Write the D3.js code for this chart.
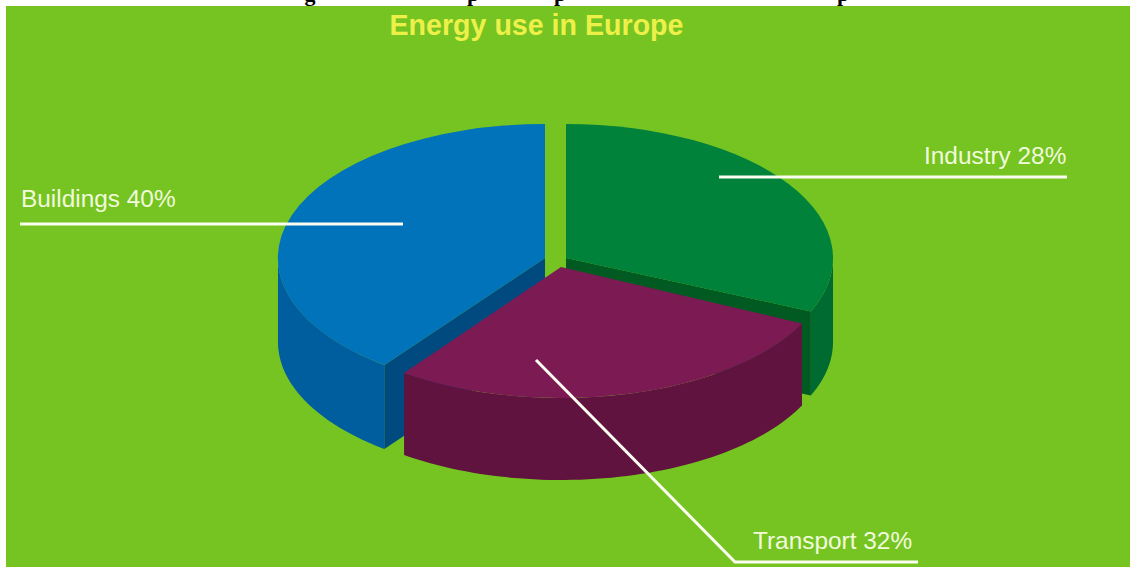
<!DOCTYPE html>
<html>
<head>
<meta charset="utf-8">
<style>
    html, body { margin: 0; padding: 0; background: #fff; overflow: hidden; }
    svg { display: block; }
</style>
<script src="https://cdn.jsdelivr.net/npm/d3@7"></script>
</head>
<body>
<svg id="mainFrame"></svg>
<script>
// chart values
const sectors = ["Industry", "Transport", "Buildings"];
const shares = [28, 32, 40];
const chartTitle = "Energy use in Europe";
// the tilted pie is drawn in perspective, so the slices do not open by their plain share
const shareStops = [0, 28, 60, 100];
const drawnDegrees = [0, 113.5, 216.5, 360];
// only the bottoms of the heading above the chart are left in the picture
const headingGlyphs = ["g", "p", "p", "p"];

const width = 1130;
const height = 567;
const rx = 267;

const topColor = { Industry: "#00823a", Transport: "#7c1a54", Buildings: "#0073bb" };
const wallColor = { Industry: "#006b31", Transport: "#5f133e", Buildings: "#005e9e" };
const cutColor = { Industry: "#005a22", Buildings: "#004a80" };
const center = {
    Industry: [566, 258],
    Transport: [561, 267],
    Buildings: [545, 258]
};
const radiusY = { Industry: 134, Transport: 131, Buildings: 134 };
const depth = { Industry: 84, Transport: 82, Buildings: 84 };
// small trim of each slice's edges, in degrees
const trim = { Industry: [0, 0], Transport: [2, -0.5], Buildings: [0.5, 0] };
const labels = {
    Industry: { x: 924, y: 164, line: [[719, 177], [1067, 177]] },
    Transport: { x: 753, y: 549, line: [[536, 360], [735, 562], [918, 562]] },
    Buildings: { x: 21, y: 207, line: [[20, 224], [403, 224]] }
};
const headingX = [310, 473, 560, 843];

const svg = d3.select("#mainFrame")
    .attr("width", width)
    .attr("height", height);

svg.append("rect")
    .attr("x", 6).attr("y", 6)
    .attr("width", width - 6).attr("height", height - 6)
    .attr("fill", "#76c422");

svg.selectAll(".heading")
    .data(headingGlyphs)
    .join("text")
    .attr("class", "heading")
    .attr("x", (d, i) => headingX[i])
    .attr("y", 1)
    .attr("text-anchor", "middle")
    .attr("font-family", "Liberation Serif")
    .attr("font-weight", "bold")
    .attr("font-size", 22)
    .attr("fill", "#000")
    .text(d => d);

const tilt = d3.scaleLinear()
    .domain(shareStops.map(d => d / 100 * 2 * Math.PI))
    .range(drawnDegrees.map(d => d * Math.PI / 180));

const pie = d3.pie().sort(null).value(d => d.share)
    .startAngle(0).endAngle(2 * Math.PI);

const slices = pie(sectors.map((name, i) => ({ name, share: shares[i] }))).map(d => {
    const name = d.data.name;
    return {
        name,
        start: tilt(d.startAngle) + trim[name][0] * Math.PI / 180,
        end: tilt(d.endAngle) + trim[name][1] * Math.PI / 180
    };
});

const px = (name, a) => center[name][0] + rx * Math.sin(a);
const py = (name, a) => center[name][1] - radiusY[name] * Math.cos(a);

const arc = d3.arc().innerRadius(0).outerRadius(1);
const polygon = d3.line();
const wall = d3.area();

// drawing order: back slices first, the pulled out front slice on top
const order = ["Buildings", "Industry", "Transport"];

order.forEach(name => {
    const s = slices.find(d => d.name === name);
    const g = svg.append("g");
    const [cx, cy] = center[name];

    // only the lower half of the rim faces the viewer
    const from = Math.max(s.start, Math.PI / 2);
    const to = Math.min(s.end, 3 * Math.PI / 2);
    const steps = d3.range(0, 61).map(i => from + (to - from) * i / 60);

    g.append("path")
        .attr("fill", wallColor[name])
        .attr("d", wall
            .x(a => px(name, a))
            .y0(a => py(name, a))
            .y1(a => py(name, a) + depth[name])(steps));

    // cut face turned to the viewer
    if (cutColor[name]) {
        const edge = name === "Industry" ? s.end : s.start;
        g.append("path")
            .attr("fill", cutColor[name])
            .attr("d", polygon([
                [cx, cy],
                [px(name, edge), py(name, edge)],
                [px(name, edge), py(name, edge) + depth[name]],
                [cx, cy + depth[name]]
            ]) + "Z");
    }

    g.append("path")
        .attr("fill", topColor[name])
        .attr("transform", `translate(${cx},${cy}) scale(${rx},${radiusY[name]})`)
        .attr("d", arc({ startAngle: s.start, endAngle: s.end }));
});

const labelLine = d3.line();

sectors.forEach((name, i) => {
    svg.append("path")
        .attr("fill", "none")
        .attr("stroke", "#fbfdf0")
        .attr("stroke-width", 3)
        .attr("d", labelLine(labels[name].line));

    svg.append("text")
        .attr("x", labels[name].x)
        .attr("y", labels[name].y)
        .attr("font-family", "Liberation Sans")
        .attr("font-size", 24.4)
        .attr("fill", "#f1fbdc")
        .text(`${name} ${shares[i]}%`);
});

svg.append("text")
    .attr("x", 536.5)
    .attr("y", 35)
    .attr("text-anchor", "middle")
    .attr("font-family", "Liberation Sans")
    .attr("font-size", 28.6)
    .attr("font-weight", "bold")
    .attr("fill", "#eef04a")
    .text(chartTitle);
</script>
</body>
</html>
